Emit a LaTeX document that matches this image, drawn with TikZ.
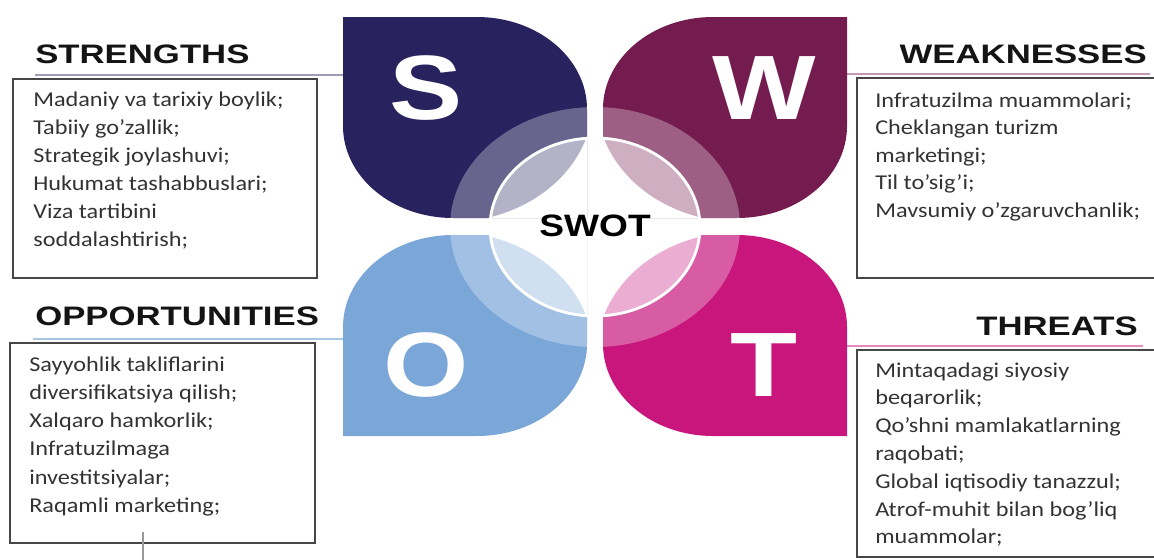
\documentclass[tikz,border=0pt]{standalone}
\usepackage{fontspec}
\setmainfont{Carlito}[FakeStretch=1.15]
\newfontfamily\headfont{Liberation Sans}[FakeStretch=1.3]
\newfontfamily\bigfont{Liberation Sans}[FakeStretch=1.2]
\definecolor{swotS}{HTML}{28225E}
\definecolor{swotW}{HTML}{741C50}
\definecolor{swotO}{HTML}{7AA6D8}
\definecolor{swotT}{HTML}{C8167D}
\tikzset{
  heading/.style={font=\headfont\bfseries\fontsize{19}{19}\selectfont, text=black!92, inner sep=0pt},
  item/.style={font=\fontsize{15}{18}\selectfont, text=black!80, anchor=base west, inner sep=0pt},
  listbox/.style={draw=black!72, line width=1.2pt},
  letter/.style={font=\bigfont\bfseries\fontsize{65}{65}\selectfont, text=white, inner sep=0pt},
  rule/.style={line width=1.1pt}
}
\begin{document}
\begin{tikzpicture}[x=0.025cm, y=0.025cm]
  \useasboundingbox (0,0) rectangle (1154,-559);
  % headings and their rules
  \node[heading, anchor=base west] (sHead) at (35,-63) {STRENGTHS};
  \node[heading, anchor=base east] (wHead) at (1147,-63) {WEAKNESSES};
  \node[heading, anchor=base west] (oHead) at (35,-325) {OPPORTUNITIES};
  \node[heading, anchor=base east] (tHead) at (1138,-335) {THREATS};
  \coordinate (sL) at (35,-75);   \coordinate (sR) at (343,-75);
  \coordinate (wL) at (847,-74);  \coordinate (wR) at (1150,-74);
  \coordinate (oL) at (33,-339);  \coordinate (oR) at (343,-339);
  \coordinate (tL) at (847,-346); \coordinate (tR) at (1143,-346);
  \draw[rule, swotS!45] (sL) -- (sR);
  \draw[rule, swotW!45] (wL) -- (wR);
  \draw[rule, swotO!65] (oL) -- (oR);
  \draw[rule, swotT!50] (tL) -- (tR);
  % petals
  \foreach \ix/\iy/\sx/\sy/\col/\ltr in {587/-218/-1/1/swotS/S, 603/-218/1/1/swotW/W,
      587/-235/-1/-1/swotO/O, 603/-235/1/-1/swotT/T} {
    \begin{scope}
      \clip (\ix,\iy) -- ({\ix+\sx*134},\iy)
        .. controls ({\ix+\sx*194.75},\iy) and ({\ix+\sx*244},{\iy+\sy*41.2}) .. ({\ix+\sx*244},{\iy+\sy*92})
        -- ({\ix+\sx*244},{\iy+\sy*201}) -- ({\ix+\sx*110},{\iy+\sy*201})
        .. controls ({\ix+\sx*49.25},{\iy+\sy*201}) and (\ix,{\iy+\sy*159.8}) .. (\ix,{\iy+\sy*109})
        -- cycle;
      \fill[\col] (300,0) rectangle (900,-460);
      \fill[white, fill opacity=.3] (595,-227) ellipse [x radius=145, y radius=120];
      \fill[white] (595,-227) ellipse [x radius=105, y radius=89];
      \clip (595,-227) ellipse [x radius=105, y radius=89];
      \fill[\col!35] ({595+\sx*145},{-227+\sy*126}) ellipse [x radius=143, y radius=121];
    \end{scope}
    \node[letter] (petal\ltr) at ({\ix+\sx*161},{\iy+\sy*130}) {\ltr};
  }
  \draw[white, line width=2pt] (595,-227) ellipse [x radius=105, y radius=89];
  \node[font=\bigfont\bfseries\fontsize{22}{22}\selectfont, inner sep=0pt] (swot) at (595,-226) {SWOT};
  % boxes
  \draw[listbox] (13,-79) rectangle (317,-278);
  \draw[listbox] (857,-78) rectangle (1170,-278);
  \draw[listbox] (10,-343) rectangle (315,-543);
  \draw[listbox] (857,-350) rectangle (1170,-557);
  \coordinate (mTop) at (143,-532);
  \coordinate (mBot) at (143,-565);
  \draw[black!40, line width=1.4pt] (mTop) -- (mBot);
  % lists
  \foreach \t [count=\i] in {Madaniy va tarixiy boylik;, Tabiiy go’zallik;, Strategik joylashuvi;,
      Hukumat tashabbuslari;, Viza tartibini, soddalashtirish;}
    \node[item] (s\i) at (33,{-106-28*(\i-1)}) {\t};
  \foreach \t [count=\i] in {Infratuzilma muammolari;, Cheklangan turizm, marketingi;,
      Til to'sig'i;, Mavsumiy o'zgaruvchanlik;}
    \node[item] (w\i) at (875,{-107-27.6*(\i-1)}) {\t};
  \foreach \t [count=\i] in {Sayyohlik takliflarini, diversifikatsiya qilish;, Xalqaro hamkorlik;,
      Infratuzilmaga, investitsiyalar;, Raqamli marketing;}
    \node[item] (o\i) at (29,{-371-28.3*(\i-1)}) {\t};
  \foreach \t [count=\i] in {Mintaqadagi siyosiy, beqarorlik;, Qo’shni mamlakatlarning, raqobati;,
      Global iqtisodiy tanazzul;, Atrof-muhit bilan bog'liq, muammolar;}
    \node[item] (t\i) at (875,{-377-27.8*(\i-1)}) {\t};
\end{tikzpicture}
\end{document}
